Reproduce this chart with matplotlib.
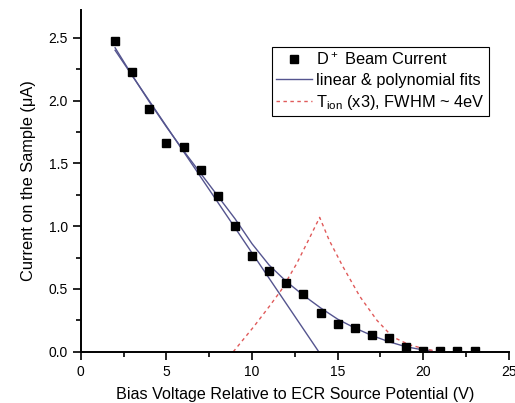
import numpy as np
import matplotlib
matplotlib.use("Agg")
import matplotlib.pyplot as plt

plt.rcParams['font.family'] = ['Liberation Sans', 'DejaVu Sans']
plt.rcParams['mathtext.default'] = 'regular'

# measured beam current
bias_v = [2, 3, 4, 5, 6, 7, 8, 9, 10, 11, 12, 13, 14, 15, 16, 17, 18, 19, 20, 21, 22, 23]
current = [2.47, 2.23, 1.93, 1.66, 1.63, 1.45, 1.24, 1.00, 0.76, 0.64, 0.55, 0.46,
           0.31, 0.22, 0.19, 0.13, 0.11, 0.04, 0.01, 0.01, 0.01, 0.01]

# linear fit (end points)
lin_x = [2.0, 13.9]
lin_y = [2.40, 0.0]

# polynomial fit
poly_x = [2, 3, 4, 5, 6, 7, 8, 9, 10, 11, 12, 13, 14, 15, 16, 17, 18, 19, 20, 20.5]
poly_y = [2.42, 2.20, 1.99, 1.79, 1.60, 1.42, 1.24, 1.06, 0.86, 0.69, 0.56, 0.45,
          0.35, 0.26, 0.19, 0.13, 0.08, 0.04, 0.015, 0.01]

# ion temperature distribution (x3)
tion_x = [8.9, 10.1, 11.0, 11.7, 12.6, 13.3, 13.95, 14.5, 15.3, 16.3, 17.3, 18.2, 19.2, 20.2, 21.0]
tion_y = [0.0, 0.20, 0.36, 0.49, 0.70, 0.89, 1.07, 0.89, 0.68, 0.44, 0.25, 0.12, 0.055, 0.02, 0.0]

fig = plt.figure(figsize=(5.15, 4.03), dpi=100)
ax = fig.add_axes([0.157, 0.127, 0.831, 0.848])

line_col = '#55558f'
ax.plot(lin_x, lin_y, color=line_col, lw=1.0, label='linear & polynomial fits')
ax.plot(poly_x, poly_y, color=line_col, lw=1.0)
ax.plot(tion_x, tion_y, color='#e05a5a', lw=1.0, ls=(0, (2.5, 2.5)),
        label=r'T$_{ion}$ (x3), FWHM ~ 4eV')
ax.plot(bias_v, current, 's', color='black', ms=6, ls='none',
        label=r'D$^+$ Beam Current')

ax.set_xlim(0, 25)
ax.set_ylim(0, 2.72)
ax.set_xticks([0, 5, 10, 15, 20, 25])
ax.set_xticks(np.arange(2.5, 25, 5), minor=True)
ax.set_yticks([0.0, 0.5, 1.0, 1.5, 2.0, 2.5])
ax.set_yticks(np.arange(0.25, 2.7, 0.5), minor=True)
ax.set_yticklabels(['0.0', '0.5', '1.0', '1.5', '2.0', '2.5'])
ax.tick_params(which='major', direction='out', length=6, width=1.2, labelsize=10)
ax.tick_params(which='minor', direction='out', length=3.5, width=1.2)

for s in ['top', 'right']:
    ax.spines[s].set_visible(False)
for s in ['left', 'bottom']:
    ax.spines[s].set_linewidth(1.4)

ax.set_xlabel('Bias Voltage Relative to ECR Source Potential (V)', fontsize=11.6, labelpad=6)
ax.set_ylabel('Current on the Sample (\u03bcA)', fontsize=11.8, labelpad=9)

handles, labels = ax.get_legend_handles_labels()
order = [2, 0, 1]
leg = ax.legend([handles[i] for i in order], [labels[i] for i in order],
                loc='upper right', bbox_to_anchor=(0.953, 0.892), fontsize=11.8,
                frameon=True, fancybox=False, framealpha=1, edgecolor='black',
                handlelength=2.2, handletextpad=0.25, borderpad=0.25,
                labelspacing=0.3, borderaxespad=0)
leg.get_frame().set_linewidth(0.8)

fig.savefig('out.png', dpi=100)
